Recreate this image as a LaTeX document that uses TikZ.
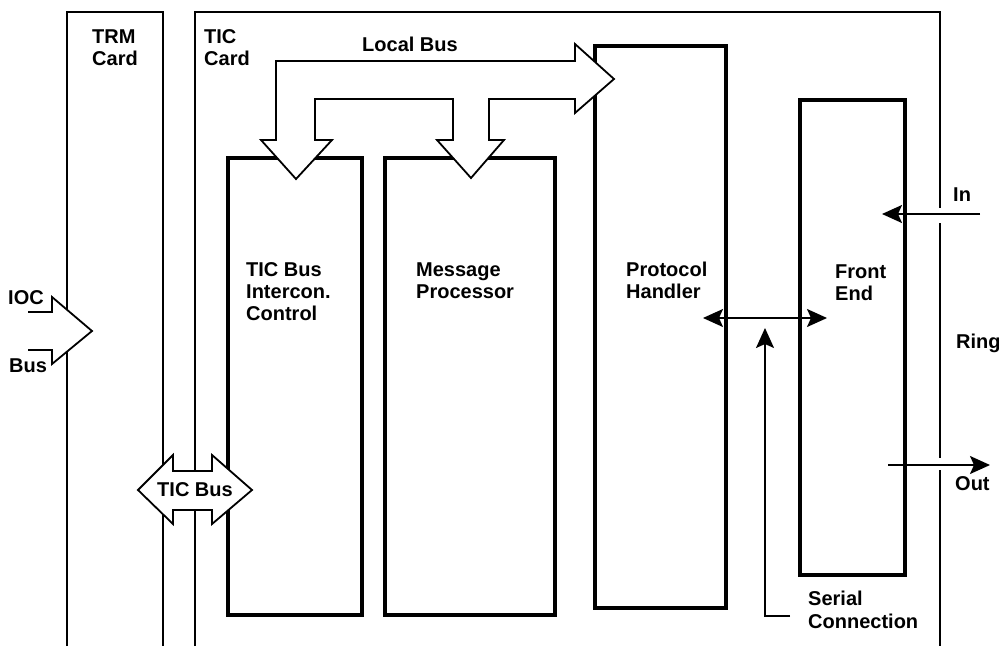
\documentclass[tikz,border=0pt]{standalone}
\usepackage{fontspec}
\setmainfont{Liberation Sans}
\usetikzlibrary{arrows.meta}
\begin{document}
\begin{tikzpicture}[x=1pt,y=-1pt,
  card/.style={line width=1.8pt},
  box/.style={draw, line width=4.5pt, inner sep=0pt, outer sep=0pt, anchor=north west},
  bus/.style={line width=1.8pt, fill=white, line join=miter},
  lbl/.style={font=\bfseries\fontsize{20}{22}\selectfont, inner sep=0pt, anchor=base west},
  tip/.style={Stealth[length=20pt,width=18pt,inset=4pt]},
  sig/.style={line width=1.8pt, -{Stealth[length=20pt,width=18pt,inset=4pt]}},
]
\useasboundingbox (0,0) rectangle (999,646);
% cards
\draw[card] (67,646) -- (67,12) -- (163,12) -- (163,646);
\draw[card] (195,646) -- (195,12) -- (940,12) -- (940,208);
\draw[card] (940,223) -- (940,458);
\draw[card] (940,470) -- (940,646);
% boxes
\node[box, minimum width=134pt, minimum height=457pt] (tbic) at (228,158) {};
\node[box, minimum width=170pt, minimum height=457pt] (mp) at (385,158) {};
\node[box, minimum width=131pt, minimum height=562pt] (ph) at (595,46) {};
\node[box, minimum width=105pt, minimum height=475pt] (fe) at (800,100) {};
% local bus
\draw[bus] (276,61) -- (575,61) -- (575,44) -- (614,79) -- (575,113) -- (575,99)
  -- (489,99) -- (489,140) -- (504,140) -- (471,178) -- (437,140) -- (453,140)
  -- (453,99) -- (315,99) -- (315,140) -- (332,140) -- (296,179) -- (261,140)
  -- (276,140) -- cycle;
% TIC bus
\draw[bus] (138,490) -- (173,455) -- (173,471) -- (212,471) -- (212,455) -- (252,490)
  -- (212,524) -- (212,510) -- (173,510) -- (173,524) -- cycle;
\node[font=\bfseries\fontsize{20}{22}\selectfont, inner sep=0pt] (ticbus) at (195,490) {TIC Bus};
% IOC bus
\fill[white] (28,312) -- (52,312) -- (52,297) -- (92,331) -- (52,364) -- (52,350) -- (28,350) -- cycle;
\draw[line width=1.8pt, line join=miter] (28,312) -- (52,312) -- (52,297) -- (92,331) -- (52,364) -- (52,350) -- (28,350);
% signals
\coordinate (inS) at (980,214);
\coordinate (inE) at (882,214);
\draw[sig] (inS) -- (inE);
\coordinate (outS) at (888,465);
\coordinate (outE) at (990,465);
\draw[sig] (outS) -- (outE);
\coordinate (dL) at (703,318);
\coordinate (dR) at (827,318);
\draw[line width=1.8pt, {Stealth[length=20pt,width=18pt,inset=4pt]}-{Stealth[length=20pt,width=18pt,inset=4pt]}] (dL) -- (dR);
\coordinate (sEnd) at (790,616);
\coordinate (sCorner) at (765,616);
\coordinate (sTip) at (765,328);
\draw[sig] (sEnd) -- (sCorner) -- (sTip);
% labels
\node[lbl] (trm1) at (92,43) {TRM};
\node[lbl] (trm2) at (92,65) {Card};
\node[lbl] (tic1) at (204,43) {TIC};
\node[lbl] (tic2) at (204,65) {Card};
\node[lbl] (lb) at (362,51) {Local Bus};
\node[lbl] (ioc) at (8,304) {IOC};
\node[lbl] (bus) at (9,372) {Bus};
\node[lbl] (t1) at (246,276) {TIC Bus};
\node[lbl] (t2) at (246,298) {Intercon.};
\node[lbl] (t3) at (246,320) {Control};
\node[lbl] (m1) at (416,276) {Message};
\node[lbl] (m2) at (416,298) {Processor};
\node[lbl] (p1) at (626,276) {Protocol};
\node[lbl] (p2) at (626,298) {Handler};
\node[lbl] (f1) at (835,278) {Front};
\node[lbl] (f2) at (835,300) {End};
\node[lbl] (in) at (953,201) {In};
\node[lbl] (ring) at (956,348) {Ring};
\node[lbl] (out) at (955,490) {Out};
\node[lbl] (s1) at (808,605) {Serial};
\node[lbl] (s2) at (808,628) {Connection};
\end{tikzpicture}
\end{document}
